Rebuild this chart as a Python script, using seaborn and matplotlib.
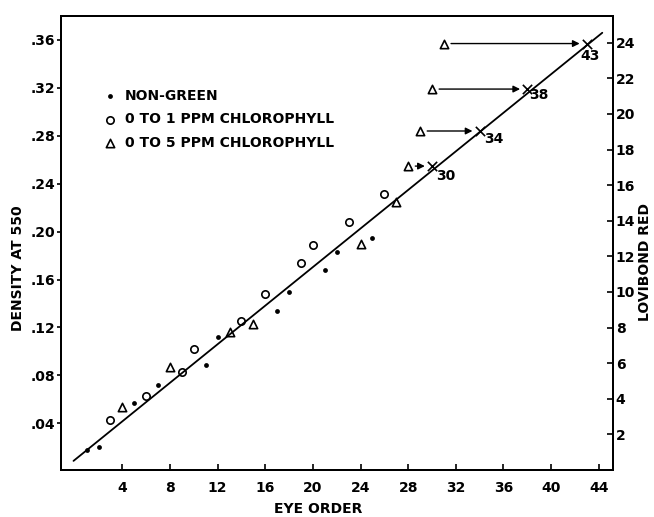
import numpy as np
import pandas as pd
import matplotlib
matplotlib.use("Agg")
import matplotlib.pyplot as plt
import seaborn as sns
from matplotlib.ticker import FuncFormatter

# ---------------- data ----------------
nongreen_x = [1, 2, 5, 7, 11, 12, 17, 18, 21, 22, 25]
nongreen_y = [0.018, 0.020, 0.057, 0.072, 0.089, 0.112, 0.134, 0.150, 0.168, 0.183, 0.195]

chl1_x = [3, 6, 9, 10, 14, 16, 19, 20, 23, 26]
chl1_y = [0.043, 0.063, 0.083, 0.102, 0.125, 0.148, 0.174, 0.189, 0.208, 0.231]

chl5_x = [4, 8, 13, 15, 24, 27]
chl5_y = [0.054, 0.087, 0.116, 0.123, 0.190, 0.225]

# shifted 0-5 ppm samples (triangle -> X)
shift_from_x = [28, 29, 30, 31]
shift_to_x = [30, 34, 38, 43]
shift_y = [0.2547, 0.284, 0.319, 0.357]
shift_labels = ["30", "34", "38", "43"]

line_x = [-0.1, 44.3]
line_y = [0.0086, 0.366]

x_ticks = [4, 8, 12, 16, 20, 24, 28, 32, 36, 40, 44]
y_ticks = [0.04, 0.08, 0.12, 0.16, 0.20, 0.24, 0.28, 0.32, 0.36]
right_ticks = [2, 4, 6, 8, 10, 12, 14, 16, 18, 20, 22, 24]

legend_labels = ["NON-GREEN", "0 TO 1 PPM CHLOROPHYLL", "0 TO 5 PPM CHLOROPHYLL"]

# ---------------- style ----------------
sns.set_theme(style="ticks")
plt.rcParams["font.family"] = ["DejaVu Sans"]
plt.rcParams["font.weight"] = "bold"
plt.rcParams["axes.linewidth"] = 1.4
for k in ["text.color", "axes.labelcolor", "xtick.color", "ytick.color", "axes.edgecolor"]:
    plt.rcParams[k] = "black"

fig = plt.figure(figsize=(6.54, 5.17), dpi=100)
ax = fig.add_axes([61 / 654, 1 - 470 / 517, (613 - 61) / 654, (470 - 16) / 517])

sns.lineplot(x=line_x, y=line_y, ax=ax, color="black", lw=1.3)

sns.scatterplot(x=nongreen_x, y=nongreen_y, ax=ax, marker="o", s=12,
                color="black", edgecolor="black", linewidth=0, label=legend_labels[0])
sns.scatterplot(x=chl1_x, y=chl1_y, ax=ax, marker="o", s=28,
                facecolor="white", edgecolor="black", linewidth=1.2, label=legend_labels[1])
sns.scatterplot(x=chl5_x + shift_from_x, y=chl5_y + shift_y, ax=ax, marker="^", s=36,
                facecolor="white", edgecolor="black", linewidth=1.2, label=legend_labels[2])

sns.scatterplot(x=shift_to_x, y=shift_y, ax=ax, marker="x", s=45,
                color="black", linewidth=1.2, legend=False)

for fx, tx, yy in zip(shift_from_x, shift_to_x, shift_y):
    ax.annotate("", xy=(tx - 0.6, yy), xytext=(fx + 0.6, yy),
                arrowprops=dict(arrowstyle="-|>", color="black", lw=1.0,
                                mutation_scale=10, shrinkA=0, shrinkB=0))
offs = {"30": (14, -10), "34": (14, -8), "38": (12, -6), "43": (3, -12)}
for tx, yy, lab in zip(shift_to_x, shift_y, shift_labels):
    ax.annotate(lab, xy=(tx, yy), xytext=offs[lab], textcoords="offset pixels",
                ha="center", va="center", fontsize=10, fontweight="bold")

ax.set_xlim(-1.15, 45.2)
ax.set_ylim(0.001, 0.380)
ax.set_xticks(x_ticks)
ax.set_yticks(y_ticks)
ax.yaxis.set_major_formatter(FuncFormatter(lambda v, p: ("%.2f" % v)[1:]))
ax.tick_params(axis="x", direction="in", length=4, width=1.2, pad=8, labelsize=10)
ax.tick_params(axis="y", direction="out", length=3, width=1.2, pad=1, labelsize=10)
for s in ax.spines.values():
    s.set_visible(True)
    s.set_linewidth(1.4)

ax.set_xlabel("EYE ORDER", fontsize=10, fontweight="bold")
ax.xaxis.set_label_coords(0.466, -0.070)
ax.set_ylabel("DENSITY AT 550", fontsize=10, fontweight="bold")
ax.yaxis.set_label_coords(-0.065, 0.445)

ax2 = ax.twinx()
ax2.set_ylim(0, 25.5)
ax2.set_yticks(right_ticks)
ax2.tick_params(axis="y", direction="in", length=4, width=1.2, pad=2, labelsize=10)
ax2.set_ylabel("LOVIBOND RED", fontsize=10, fontweight="bold")
ax2.yaxis.set_label_coords(1.046, 0.458)
ax2.grid(False)

leg = ax.legend(loc="upper left", bbox_to_anchor=(0.076, 0.84), frameon=False,
                fontsize=10, handlelength=1.0, handletextpad=0.6, labelspacing=0.7,
                borderpad=0, borderaxespad=0)
for t in leg.get_texts():
    t.set_fontweight("bold")

fig.savefig("out.png", dpi=100)
